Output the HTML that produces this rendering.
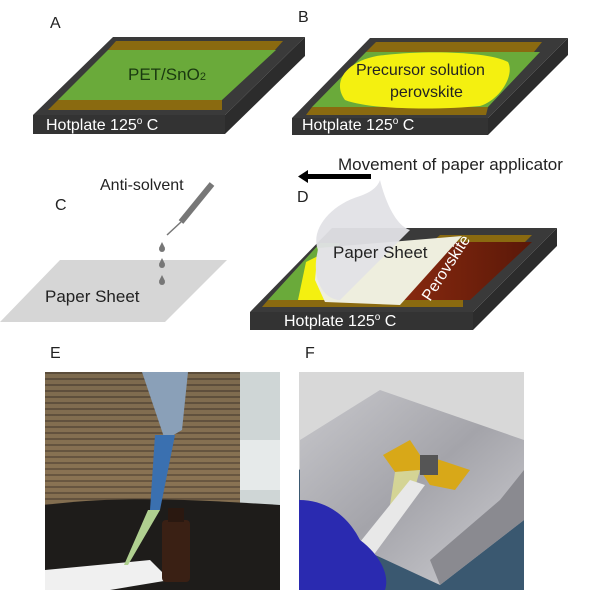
<!DOCTYPE html>
<html><head><meta charset="utf-8"><style>
html,body{margin:0;padding:0;background:#fff}
svg{display:block}
text{font-family:"Liberation Sans",Arial,sans-serif}
</style></head><body>
<svg width="600" height="590" viewBox="0 0 600 590" xmlns="http://www.w3.org/2000/svg">
<defs>
<linearGradient id="pv" x1="0" y1="0" x2="1" y2="0"><stop offset="0" stop-color="#8a2a10"/><stop offset="1" stop-color="#5a1808"/></linearGradient>
<linearGradient id="eb" x1="0" y1="0" x2="0" y2="1"><stop offset="0" stop-color="#6b5a44"/><stop offset="0.5" stop-color="#8a7050"/><stop offset="1" stop-color="#3a3028"/></linearGradient>
<pattern id="st" width="6" height="6" patternUnits="userSpaceOnUse"><rect width="6" height="6" fill="#8a7656"/><rect width="6" height="2" fill="#4e4234"/></pattern>
<linearGradient id="foil" x1="0" y1="0" x2="1" y2="1"><stop offset="0" stop-color="#c8c8cc"/><stop offset="0.5" stop-color="#a4a4aa"/><stop offset="1" stop-color="#d0d0d4"/></linearGradient>
</defs>

<!-- A -->
<text x="50" y="28" font-size="16" fill="#222">A</text>
<polygon points="113,37 305,37 225,115 33,115" fill="#3a3a3a"/>
<polygon points="33,115 225,115 225,134 33,134" fill="#333"/>
<polygon points="225,115 305,37 305,56 225,134" fill="#2c2c2c"/>
<polygon points="108,50 276,50 222,100 58,100" fill="#6aaa3a"/>
<polygon points="116,41 283,41 275,50 108,50" fill="#8a6a10"/>
<polygon points="58,100 222,100 222,110 48,110" fill="#8a6a10"/>
<text x="128" y="80" font-size="17" fill="#1a3a10">PET/SnO<tspan font-size="11">2</tspan></text>
<text x="46" y="130" font-size="16" fill="#fff">Hotplate 125<tspan font-size="10" dy="-6">o</tspan><tspan dy="6"> C</tspan></text>

<!-- B -->
<text x="298" y="22" font-size="16" fill="#222">B</text>
<polygon points="370,38 568,38 488,118 292,118" fill="#3a3a3a"/>
<polygon points="292,118 488,118 488,135 292,135" fill="#333"/>
<polygon points="488,118 568,38 568,55 488,135" fill="#2c2c2c"/>
<polygon points="366,52 540,52 488,107 312,107" fill="#6aaa3a"/>
<polygon points="376,42 542,42 534,52 366,52" fill="#8a6a10"/>
<polygon points="312,107 488,107 486,115 306,115" fill="#8a6a10"/>
<path d="M345,100 C330,80 350,58 385,55 C430,50 490,52 508,62 C515,75 500,100 480,106 C440,110 370,110 345,100 Z" fill="#f4f010"/>
<text x="356" y="75" font-size="16" fill="#222">Precursor solution</text>
<text x="390" y="97" font-size="16" fill="#222">perovskite</text>
<text x="302" y="130" font-size="16" fill="#fff">Hotplate 125<tspan font-size="10" dy="-6">o</tspan><tspan dy="6"> C</tspan></text>

<!-- arrow -->
<text x="338" y="170" font-size="17" fill="#222">Movement of paper applicator</text>
<rect x="305" y="174" width="66" height="5" fill="#000"/>
<polygon points="298,176.5 308,170 308,183" fill="#000"/>

<!-- C -->
<text x="55" y="210" font-size="16" fill="#222">C</text>
<text x="100" y="190" font-size="16" fill="#222">Anti-solvent</text>
<line x1="212" y1="184" x2="181" y2="222" stroke="#777" stroke-width="6"/>
<line x1="181" y1="222" x2="167" y2="235" stroke="#777" stroke-width="1.5"/>
<polygon points="60,260 227,260 165,322 0,322" fill="#d6d6d6"/>
<g fill="#777"><circle cx="162" cy="249" r="3"/><polygon points="159,248 165,248 162,242"/><circle cx="162" cy="265" r="3"/><polygon points="159,264 165,264 162,258"/><circle cx="162" cy="282" r="3"/><polygon points="159,281 165,281 162,275"/></g>
<text x="45" y="302" font-size="17" fill="#222">Paper Sheet</text>

<!-- D -->
<text x="297" y="202" font-size="16" fill="#222">D</text>
<polygon points="332,228 557,228 473,312 250,312" fill="#3a3a3a"/>
<polygon points="250,312 473,312 473,330 250,330" fill="#333"/>
<polygon points="473,312 557,228 557,246 473,330" fill="#2c2c2c"/>
<polygon points="320,243 340,243 310,300 268,300" fill="#6aaa3a"/>
<polygon points="306,262 330,250 325,300 298,300" fill="#f4f010"/>
<polygon points="455,242 532,242 470,300 395,300" fill="url(#pv)"/>
<polygon points="440,235 532,235 525,242 432,242" fill="#8a6a10"/>
<polygon points="268,300 463,300 463,307 262,307" fill="#8a6a10"/>
<polygon points="318,248 462,236 400,305 325,302 315,280" fill="#eeeede"/>
<path d="M318,250 C310,230 330,205 360,196 C372,192 378,186 380,180 C385,200 395,225 410,230 L340,300 C325,300 310,280 318,250 Z" fill="#e2e2e6" opacity="0.95"/>
<text x="333" y="258" font-size="17" fill="#222">Paper Sheet</text>
<text x="0" y="0" font-size="16" fill="#fff" transform="translate(430,302) rotate(-57)">Perovskite</text>
<text x="284" y="326" font-size="16" fill="#fff">Hotplate 125<tspan font-size="10" dy="-6">o</tspan><tspan dy="6"> C</tspan></text>

<!-- E -->
<text x="50" y="358" font-size="16" fill="#222">E</text>
<rect x="45" y="372" width="235" height="218" fill="url(#st)"/>
<rect x="45" y="372" width="235" height="218" fill="url(#eb)" opacity="0.45"/>
<rect x="240" y="372" width="40" height="170" fill="#cfd6d6"/>
<rect x="240" y="440" width="40" height="50" fill="#e6eaea"/>
<path d="M45,505 C120,495 200,500 280,505 L280,590 L45,590 Z" fill="#1e1c1a"/>
<polygon points="45,570 150,560 170,580 110,590 45,590" fill="#f0f0f0"/>
<rect x="162" y="520" width="28" height="62" rx="4" fill="#3a2014"/>
<rect x="168" y="508" width="16" height="14" fill="#2a1810"/>
<polygon points="142,372 188,372 182,430 165,440" fill="#8aa0b8"/>
<polygon points="155,435 175,435 160,510 150,510" fill="#3a70b0"/>
<polygon points="148,510 160,510 128,565 124,565" fill="#b0d090"/>

<!-- F -->
<text x="305" y="358" font-size="16" fill="#222">F</text>
<rect x="299" y="372" width="225" height="218" fill="#d8d8d8"/>
<polygon points="299,470 340,440 524,480 524,590 299,590" fill="#3a5870"/>
<polygon points="300,440 380,390 524,440 524,520 440,585 300,520" fill="url(#foil)"/>
<polygon points="440,585 524,520 524,470 500,500 430,560" fill="#8a8a90"/>
<polygon points="383,455 410,440 420,455 440,460 470,470 455,490 430,485 420,470 395,472" fill="#d8a818"/>
<rect x="420" y="455" width="18" height="20" fill="#555"/>
<polygon points="395,472 420,470 410,505 390,505" fill="#e0e090" opacity="0.8"/>
<polygon points="410,480 425,485 370,560 352,552" fill="#e8e8e8"/>
<path d="M299,500 C330,500 350,520 360,540 C380,555 390,575 385,590 L299,590 Z" fill="#2a2ab0"/>
</svg>
</body></html>
